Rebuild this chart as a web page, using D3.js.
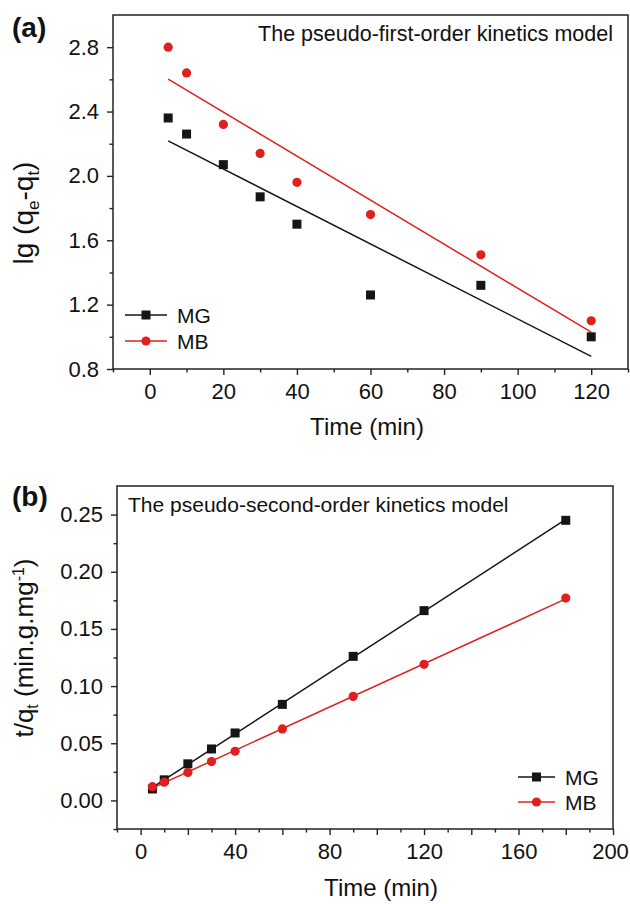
<!DOCTYPE html>
<html>
<head>
<meta charset="utf-8">
<script src="https://cdn.jsdelivr.net/npm/d3@7"></script>
<style>
  body { margin: 0; background: #fff; }
  svg text { font-family: "Liberation Sans", Arial, sans-serif; fill: #111; }
</style>
</head>
<body>
<svg id="chart" width="630" height="904"></svg>
<script>
// panel (a) pseudo-first-order
const timeA = [5, 10, 20, 30, 40, 60, 90, 120];
const mgA = [2.36, 2.26, 2.07, 1.87, 1.70, 1.26, 1.32, 1.00];
const mbA = [2.80, 2.64, 2.32, 2.14, 1.96, 1.76, 1.51, 1.10];
const xTicksA = [0, 20, 40, 60, 80, 100, 120];
const yTicksA = [0.8, 1.2, 1.6, 2.0, 2.4, 2.8];

// panel (b) pseudo-second-order
const timeB = [5, 10, 20, 30, 40, 60, 90, 120, 180];
const mgB = [0.010, 0.018, 0.032, 0.045, 0.059, 0.084, 0.126, 0.166, 0.245];
const mbB = [0.012, 0.016, 0.0245, 0.034, 0.043, 0.0625, 0.091, 0.119, 0.177];
const xTicksB = [0, 40, 80, 120, 160, 200];
const yTicksB = [0.00, 0.05, 0.10, 0.15, 0.20, 0.25];

const seriesNames = ["MG", "MB"];
const colors = { MG: "#151515", MB: "#e0201e" };

const svg = d3.select("#chart");

// least squares line through the points
function fit(xs, ys) {
    const mx = d3.mean(xs), my = d3.mean(ys);
    const b = d3.sum(xs, (x, i) => (x - mx) * (ys[i] - my)) / d3.sum(xs, x => (x - mx) ** 2);
    return x => my + b * (x - mx);
}

function marker(g, name, cx, cy) {
    if (name === "MG") {
        g.append("rect").attr("x", cx - 4.5).attr("y", cy - 4.5)
            .attr("width", 9).attr("height", 9).attr("fill", colors.MG);
    } else {
        g.append("circle").attr("cx", cx).attr("cy", cy).attr("r", 4.6).attr("fill", colors.MB);
    }
}

function drawPanel(p) {
    const x = d3.scaleLinear().domain(p.xDomain).range([p.left, p.right]);
    const y = d3.scaleLinear().domain(p.yDomain).range([p.bottom, p.top]);
    const g = svg.append("g");

    // minor ticks
    g.append("g").attr("transform", `translate(0,${p.bottom})`)
        .call(d3.axisBottom(x).tickValues(p.xMinor).tickSize(3.5).tickFormat(""));
    g.append("g").attr("transform", `translate(${p.left},0)`)
        .call(d3.axisLeft(y).tickValues(p.yMinor).tickSize(3.5).tickFormat(""));

    // major ticks
    const xa = g.append("g").attr("transform", `translate(0,${p.bottom})`)
        .call(d3.axisBottom(x).tickValues(p.xMajor).tickSize(6).tickPadding(8)
            .tickFormat(d => p.xLabels.includes(d) ? d : ""));
    g.append("g").attr("transform", `translate(${p.left},0)`)
        .call(d3.axisLeft(y).tickValues(p.yTicks).tickSize(6).tickPadding(8).tickFormat(p.yFormat));

    g.selectAll(".domain").remove();
    g.selectAll(".tick line").attr("stroke", "#222").attr("stroke-width", 1.4);
    g.selectAll(".tick text").style("font-size", "22px").attr("fill", "#111");
    // keep the last label inside the page edge
    if (p.lastLabelDx) {
        xa.selectAll(".tick text").filter(d => d === p.xDomain[1]).attr("dx", p.lastLabelDx);
    }

    g.append("rect")
        .attr("x", p.left).attr("y", p.top)
        .attr("width", p.right - p.left).attr("height", p.bottom - p.top)
        .attr("fill", "none").attr("stroke", "#222").attr("stroke-width", 1.5);

    // fit lines then points
    p.series.forEach(s => {
        const f = fit(s.xs, s.ys);
        const x0 = d3.min(s.xs), x1 = d3.max(s.xs);
        g.append("line")
            .attr("x1", x(x0)).attr("y1", y(f(x0)))
            .attr("x2", x(x1)).attr("y2", y(f(x1)))
            .attr("stroke", colors[s.name]).attr("stroke-width", 1.5);
    });
    p.series.forEach(s => {
        s.xs.forEach((xv, i) => marker(g, s.name, x(xv), y(s.ys[i])));
    });

    // legend
    seriesNames.forEach((name, i) => {
        const ly = p.legend.y + i * p.legend.gap;
        g.append("line").attr("x1", p.legend.x).attr("x2", p.legend.x + p.legend.w)
            .attr("y1", ly).attr("y2", ly)
            .attr("stroke", colors[name]).attr("stroke-width", 1.5);
        marker(g, name, p.legend.x + p.legend.w / 2, ly);
        g.append("text").attr("x", p.legend.x + p.legend.w + 10).attr("y", ly + 7.5)
            .style("font-size", "21px").text(name);
    });

    // panel title and letter
    g.append("text").attr("x", p.title.x).attr("y", p.title.y)
        .attr("text-anchor", p.title.anchor)
        .style("font-size", p.title.size + "px").text(p.title.text);
    g.append("text").attr("x", 12).attr("y", p.letterY)
        .style("font-size", "28px").style("font-weight", "bold").text(p.letter);

    // x axis title
    g.append("text").attr("x", p.xTitleX).attr("y", p.xTitleY)
        .attr("text-anchor", "middle").style("font-size", "24px").text("Time (min)");

    // y axis title with subscripts / superscripts
    const yt = g.append("text")
        .attr("transform", `translate(${p.yTitleX},${p.yTitleY}) rotate(-90)`)
        .attr("text-anchor", "middle").style("font-size", p.yTitleSize + "px");
    p.yTitle.forEach(part => {
        const t = yt.append("tspan").text(part.t);
        if (part.dy) t.attr("dy", part.dy);
        if (part.small) t.style("font-size", Math.round(p.yTitleSize * 0.62) + "px");
    });
}

drawPanel({
    left: 113, right: 628, top: 15, bottom: 369,
    xDomain: [-10, 130], yDomain: [0.8, 3.0],
    xMajor: xTicksA, xLabels: xTicksA, xMinor: d3.range(-10, 131, 10).filter(v => !xTicksA.includes(v)),
    yTicks: yTicksA, yMinor: [1.0, 1.4, 1.8, 2.2, 2.6], yFormat: d3.format(".1f"),
    series: [{ name: "MG", xs: timeA, ys: mgA }, { name: "MB", xs: timeA, ys: mbA }],
    legend: { x: 125, y: 315, w: 42, gap: 26 },
    title: { x: 613, y: 41, anchor: "end", size: 21.5, text: "The pseudo-first-order kinetics model" },
    letter: "(a)", letterY: 37,
    xTitleX: 367, xTitleY: 435,
    yTitleX: 33, yTitleY: 213, yTitleSize: 28,
    yTitle: [{ t: "lg (q" }, { t: "e", dy: 6, small: true }, { t: "-q", dy: -6 }, { t: "t", dy: 6, small: true }, { t: ")", dy: -6 }]
});

drawPanel({
    left: 117, right: 613, top: 486, bottom: 829,
    xDomain: [-10, 200], yDomain: [-0.025, 0.275],
    xMajor: d3.range(0, 201, 20), xLabels: xTicksB, xMinor: d3.range(-10, 200, 20),
    yTicks: yTicksB, yMinor: [-0.025, 0.025, 0.075, 0.125, 0.175, 0.225], yFormat: d3.format(".2f"),
    lastLabelDx: -3,
    series: [{ name: "MG", xs: timeB, ys: mgB }, { name: "MB", xs: timeB, ys: mbB }],
    legend: { x: 518, y: 777, w: 37, gap: 25 },
    title: { x: 128, y: 512, anchor: "start", size: 21, text: "The pseudo-second-order kinetics model" },
    letter: "(b)", letterY: 506,
    xTitleX: 381, xTitleY: 896,
    yTitleX: 33, yTitleY: 648, yTitleSize: 26,
    yTitle: [{ t: "t/q" }, { t: "t", dy: 5, small: true }, { t: " (min.g.mg", dy: -5 }, { t: "-1", dy: -9, small: true }, { t: ")", dy: 9 }]
});
</script>
</body>
</html>
